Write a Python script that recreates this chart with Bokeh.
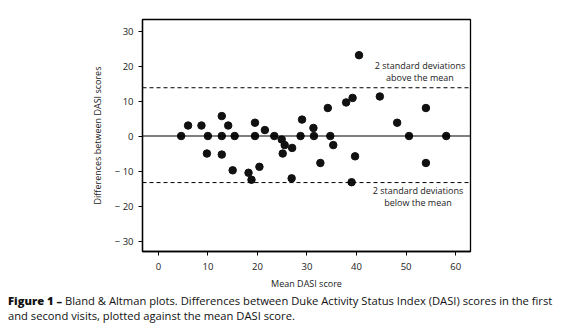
from bokeh.plotting import figure
from bokeh.models import ColumnDataSource, Span, Label, Range1d, FixedTicker, Div
from bokeh.layouts import column
from bokeh.embed import file_html
from bokeh.resources import INLINE

# Data
mean_dasi = [4.6, 6.0, 8.7, 10.0, 9.8, 12.8, 12.8, 12.8, 14.1, 15.4, 15.0, 18.2, 18.8,
             19.5, 19.5, 20.4, 21.5, 23.4, 24.9, 25.5, 25.1, 27.0, 26.9, 28.7, 29.0,
             31.3, 31.4, 32.7, 34.2, 34.7, 35.3, 37.9, 39.2, 39.0, 39.7, 40.5, 44.7,
             48.2, 50.6, 54.0, 54.0, 58.1]
diff_dasi = [0.0, 3.0, 3.0, 0.0, -5.0, 5.7, 0.0, -5.3, 3.0, 0.0, -9.8, -10.5, -12.5,
             3.8, 0.0, -8.8, 1.7, 0.0, -1.0, -2.6, -5.0, -3.4, -12.1, 0.0, 4.7,
             2.3, 0.0, -7.7, 8.0, 0.0, -2.6, 9.6, 10.9, -13.2, -5.8, 23.1, 11.3,
             3.8, 0.0, 8.0, -7.7, 0.0]
mean_line = 0.0
upper_limit = 13.8
lower_limit = -13.3
x_ticks = [0, 10, 20, 30, 40, 50, 60]
y_ticks = [-30, -20, -10, 0, 10, 20, 30]
y_tick_labels = ["\u2212 30", "\u2212 20", "\u2212 10", "0", "10", "20", "30"]
caption_bold = "Figure 1 \u2013"
caption_text = ("Bland &amp; Altman plots. Differences between Duke Activity Status Index (DASI) "
                "scores in the first<br>and second visits, plotted against the mean DASI score.")

FONT = "Open Sans"

p = figure(width=573, height=292, output_backend="svg", toolbar_location=None,
           x_range=Range1d(-3.2, 63), y_range=Range1d(-33, 33.3))
p.min_border_left = 142
p.min_border_right = 103
p.min_border_top = 19
p.min_border_bottom = 39
p.background_fill_color = "white"
p.border_fill_color = "white"
p.outline_line_color = "black"
p.outline_line_width = 1.3
p.grid.visible = False

src = ColumnDataSource(dict(x=mean_dasi, y=diff_dasi))

p.add_layout(Span(location=mean_line, dimension="width", line_color="black", line_width=1.2))
p.add_layout(Span(location=upper_limit, dimension="width", line_color="black",
                  line_width=1, line_dash="4 3"))
p.add_layout(Span(location=lower_limit, dimension="width", line_color="black",
                  line_width=1, line_dash="4 3"))

p.scatter("x", "y", source=src, size=7.5, color="#111111")

for ax in (p.xaxis[0], p.yaxis[0]):
    ax.axis_line_color = "black"
    ax.axis_line_width = 1.3
    ax.major_tick_line_color = "black"
    ax.major_tick_out = 4
    ax.major_tick_in = 0
    ax.minor_tick_line_color = None
    ax.major_label_text_font = FONT
    ax.major_label_text_font_size = "9.5px"
    ax.major_label_text_color = "#222222"
    ax.axis_label_text_font = FONT
    ax.axis_label_text_font_size = "9px"
    ax.axis_label_text_font_style = "normal"
    ax.axis_label_text_color = "#222222"

p.xaxis[0].ticker = FixedTicker(ticks=x_ticks)
p.yaxis[0].ticker = FixedTicker(ticks=y_ticks)
p.yaxis[0].major_label_overrides = {t: l for t, l in zip(y_ticks, y_tick_labels)}
p.xaxis[0].axis_label = "Mean DASI score"
p.yaxis[0].axis_label = "Differences between DASI scores"
p.xaxis[0].major_label_standoff = 7
p.xaxis[0].axis_label_standoff = 4
p.yaxis[0].major_label_standoff = 5
p.yaxis[0].axis_label_standoff = 8

ann_style = dict(text_font=FONT, text_font_size="9px", text_color="#222222",
                 text_align="center", text_baseline="middle")
p.add_layout(Label(x=52.8, y=20.2, text="2 standard deviations", **ann_style))
p.add_layout(Label(x=52.8, y=16.8, text="above the mean", **ann_style))
p.add_layout(Label(x=52.4, y=-15.5, text="2 standard deviations", **ann_style))
p.add_layout(Label(x=52.4, y=-19.1, text="below the mean", **ann_style))

caption = Div(
    text=f"<b style='font-weight:800'>{caption_bold}</b> {caption_text}",
    width=565, height=40, margin=(0, 0, 0, 8),
    styles={"font-family": FONT, "font-size": "11.2px", "line-height": "14.5px",
            "color": "#111111", "padding-top": "2px", "white-space": "nowrap"},
)

layout = column(p, caption, spacing=0)
open("out.html", "w").write(file_html(layout, INLINE))
